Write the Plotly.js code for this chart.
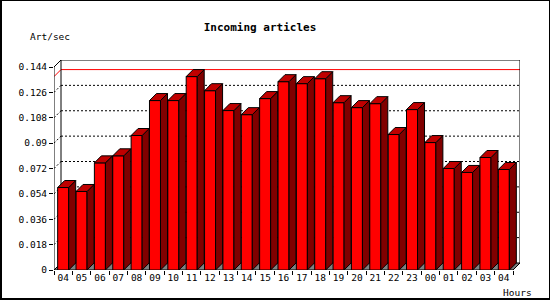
<!DOCTYPE html>
<html>
<head>
<meta charset="utf-8">
<script src="https://cdn.plot.ly/plotly-3.0.1.min.js"></script>
<style>
  html, body { margin: 0; padding: 0; background: #fff; }
  #wrap { position: relative; width: 550px; height: 300px; }
  #chart { position: absolute; left: 0; top: 0; width: 550px; height: 300px; }
  #frame { position: absolute; left: 0; top: 0; width: 550px; height: 300px; box-sizing: border-box;
           border-style: solid; border-color: #000; border-width: 1px 1px 2px 2px; pointer-events: none; }
</style>
</head>
<body>
<div id="wrap"><div id="chart"></div><div id="frame"></div></div>
<script>
// ---- data ----
const hours = ['04','05','06','07','08','09','10','11','12','13','14','15','16','17','18','19','20','21','22','23','00','01','02','03','04'];
const artPerSec = [0.0585,0.0557,0.0760,0.0810,0.0954,0.1202,0.1202,0.1372,0.1272,0.1131,0.1102,0.1216,0.1336,0.1322,0.1357,0.1187,0.1152,0.1180,0.0961,0.1138,0.0904,0.0720,0.0692,0.0798,0.0713];
const yTickVals = [0,0.018,0.036,0.054,0.072,0.09,0.108,0.126,0.144];
const yTickText = ['0','0.018','0.036','0.054','0.072','0.09','0.108','0.126','0.144'];

// ---- geometry (pixels) ----
const M = {l:54, r:30, t:60, b:30};
const plotW = 550 - M.l - M.r, plotH = 300 - M.t - M.b;
const depthPx = 7;
const pitchPx = (plotW - depthPx) / hours.length;
const xMin = -0.5, xMax = xMin + plotW / pitchPx;
const yMaxTick = yTickVals[yTickVals.length-1];
const yTop = yMaxTick * plotH / (plotH - depthPx);
const dx = depthPx / pitchPx, dy = depthPx / plotH * yTop;
const halfW = 0.3;
const xEnd = hours.length - 0.5;
const idx = hours.map((h,i)=>i);
const maxVal = Math.max(...artPerSec);

// side and top faces
const sideX = [], sideY = [], topX = [], topY = [];
idx.forEach(i => {
  const v = artPerSec[i];
  const r = i + halfW, l = i - halfW;
  sideX.push(r, r+dx, r+dx, r, r, null);
  sideY.push(0, dy, v+dy, v, 0, null);
  topX.push(l, l+dx, r+dx, r, l, null);
  topY.push(v, v+dy, v+dy, v, v, null);
});

const traces = [
  {type:'bar', x: idx, y: artPerSec, width: 2*halfW, marker:{color:'#ff0000', line:{color:'#000', width:1}}, hoverinfo:'skip'},
  {type:'scatter', mode:'lines', x: sideX, y: sideY, fill:'toself', fillcolor:'#800000', line:{color:'#000', width:1}, hoverinfo:'skip'},
  {type:'scatter', mode:'lines', x: topX, y: topY, fill:'toself', fillcolor:'#c00000', line:{color:'#000', width:1}, hoverinfo:'skip'}
];

const shapes = [];
// floor
shapes.push({type:'path', xref:'x', yref:'y', layer:'below',
  path:`M ${xMin},0 L ${xEnd},0 L ${xEnd+dx},${dy} L ${xMin+dx},${dy} Z`,
  fillcolor:'#808080', line:{color:'#000', width:1}});
// grid lines (back wall + side wall)
yTickVals.slice(1, -1).forEach(v => {
  shapes.push({type:'line', xref:'x', yref:'y', layer:'below', x0:xMin, y0:v, x1:xMin+dx, y1:v+dy, line:{color:'#000', width:1, dash:'2px,2px'}});
  shapes.push({type:'line', xref:'x', yref:'y', layer:'below', x0:xMin+dx, y0:v+dy, x1:xEnd+dx, y1:v+dy, line:{color:'#000', width:1, dash:'2px,2px'}});
});
// max line
shapes.push({type:'line', xref:'x', yref:'y', layer:'below', x0:xMin, y0:maxVal, x1:xMin+dx, y1:maxVal+dy, line:{color:'#ff0000', width:1}});
shapes.push({type:'line', xref:'x', yref:'y', layer:'below', x0:xMin+dx, y0:maxVal+dy, x1:xEnd+dx, y1:maxVal+dy, line:{color:'#ff0000', width:1}});
// back wall frame
shapes.push({type:'path', xref:'x', yref:'y', layer:'below',
  path:`M ${xMin+dx},${dy} L ${xMin+dx},${yMaxTick+dy} L ${xEnd+dx},${yMaxTick+dy} L ${xEnd+dx},${dy}`,
  line:{color:'#000', width:1}});
// front y axis + corner
shapes.push({type:'path', xref:'x', yref:'y', layer:'below',
  path:`M ${xMin},0 L ${xMin},${yMaxTick} L ${xMin+dx},${yMaxTick+dy}`,
  line:{color:'#000', width:1}});

const fontMono = 'DejaVu Sans Mono, Liberation Mono, monospace';
const layout = {
  width:550, height:300, margin:M,
  paper_bgcolor:'#fff', plot_bgcolor:'#fff', showlegend:false,
  font:{family:fontMono, size:9.5, color:'#000'},
  title:{text:'Incoming articles', xref:'container', yref:'container', x:260/550, y:1-27/300,
         xanchor:'center', yanchor:'middle', font:{family:fontMono, size:11, weight:'bold', color:'#000'}},
  xaxis:{range:[xMin, xMax], tickmode:'array', tickvals: idx, ticktext: hours, ticks:'',
         showgrid:false, zeroline:false, showline:false, fixedrange:true,
         minor:{tick0:-0.5, dtick:1, ticks:'outside', ticklen:4, tickcolor:'#000', tickwidth:1, showgrid:false}},
  yaxis:{range:[0, yTop], tickmode:'array', tickvals:yTickVals, ticktext:yTickText, ticks:'outside', ticklen:4,
         tickcolor:'#000', showgrid:false, zeroline:false, showline:false, fixedrange:true},
  shapes: shapes,
  annotations:[
    {text:'Art/sec', xref:'paper', yref:'paper', x:(28-M.l)/plotW, y:(300-M.b-37)/plotH, xanchor:'left', yanchor:'middle', showarrow:false, font:{family:fontMono, size:9.5}},
    {text:'Hours', xref:'paper', yref:'paper', x:(534-M.l)/plotW, y:(300-M.b-292)/plotH, xanchor:'right', yanchor:'middle', showarrow:false, font:{family:fontMono, size:9.5}}
  ]
};
Plotly.newPlot('chart', traces, layout, {staticPlot:true, displayModeBar:false});
</script>
</body>
</html>
